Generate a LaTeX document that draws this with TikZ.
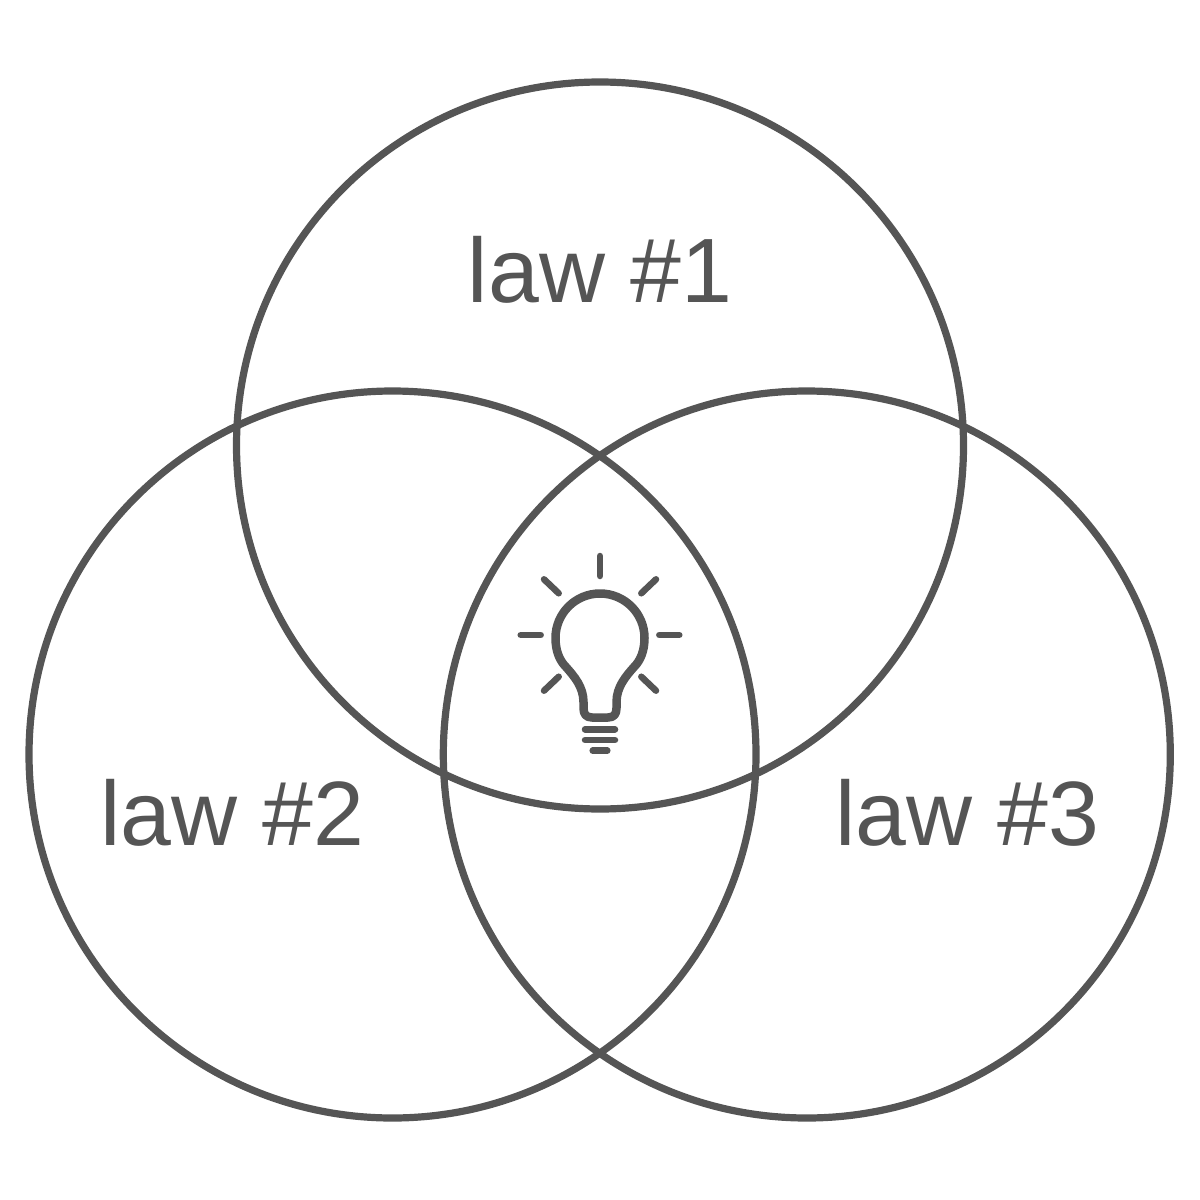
\documentclass[tikz,border=0pt]{standalone}
\usepackage{fontspec}
\setmainfont{Liberation Sans}
\usetikzlibrary{positioning,calc}
\definecolor{lawgray}{HTML}{555555}
\tikzset{
   lawcircle/.style={draw=lawgray, line width=0.72mm, circle, minimum size=7.27cm, inner sep=0pt},
   lawlabel/.style={text=lawgray, font=\fontsize{26}{30}\selectfont, inner sep=0pt},
   bulbline/.style={draw=lawgray, line width=0.85mm, line cap=round, line join=round},
   rayline/.style={draw=lawgray, line width=0.65mm, line cap=round}
}
\begin{document}
\begin{tikzpicture}[x=0.1mm,y=-0.1mm]
\useasboundingbox (0,0) rectangle (1200,1200);

\node[lawcircle] (lawone) at (600,445.5) {};
\node[lawcircle] (lawtwo) at (392.5,754.5) {};
\node[lawcircle] (lawthree) at (806.8,754.5) {};

\node[lawlabel] (labelone) at (600,270) {law \#1};
\node[lawlabel] (labeltwo) at (232.5,813) {law \#2};
\node[lawlabel] (labelthree) at (967.5,813) {law \#3};

% Light bulb
\draw[bulbline] (592,717.5) .. controls (586,717.5) and (583.5,714) .. (583.5,708)
   -- (583.5,702)
   .. controls (583.5,687) and (574,676) .. (566,667)
   .. controls (559,660) and (555.5,650) .. (555.5,638)
   .. controls (555.5,613.4) and (575.4,593.5) .. (600,593.5)
   .. controls (624.6,593.5) and (644.5,613.4) .. (644.5,638)
   .. controls (644.5,650) and (641,660) .. (634,667)
   .. controls (626,676) and (616.5,687) .. (616.5,702)
   -- (616.5,708)
   .. controls (616.5,714) and (614,717.5) .. (608,717.5) -- cycle;

% Base and rays
\draw[rayline] (585,729.3) -- (615,729.3);
\draw[rayline] (585,740) -- (615,740);
\draw[rayline] (592.7,750.7) -- (607.3,750.7);
\draw[rayline] (600,556) -- (600,576);
\draw[rayline] (544,579.3) -- (558.7,593.3);
\draw[rayline] (656,579.3) -- (641.3,593.3);
\draw[rayline] (520.7,635) -- (540.7,635);
\draw[rayline] (659.3,635) -- (679.3,635);
\draw[rayline] (544,690.7) -- (558.7,676.7);
\draw[rayline] (656,690.7) -- (641.3,676.7);
\end{tikzpicture}
\end{document}
